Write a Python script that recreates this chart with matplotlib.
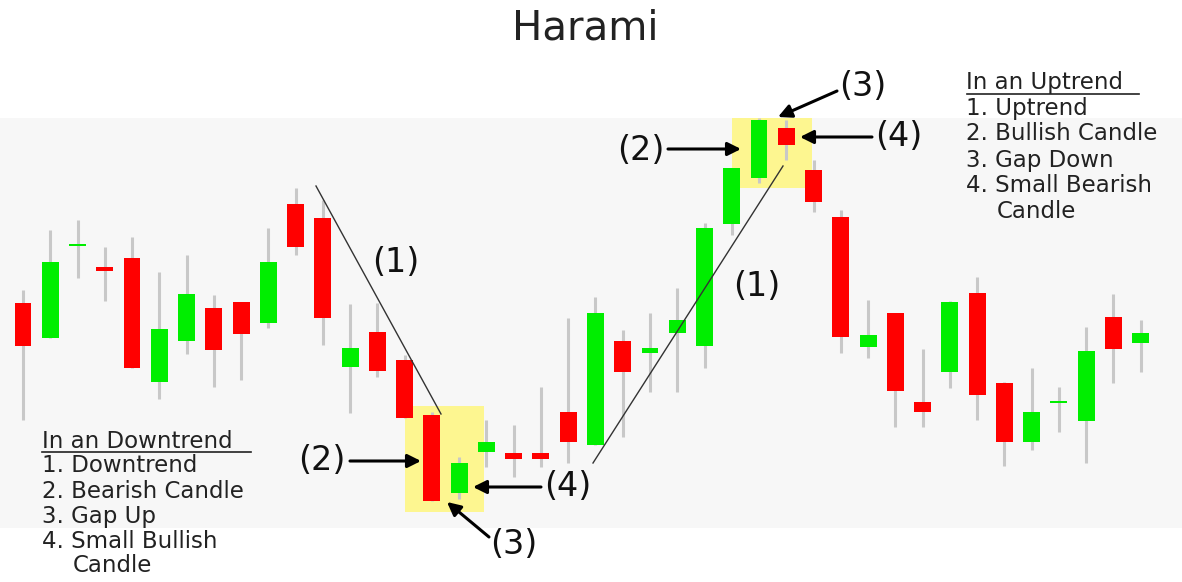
import matplotlib
matplotlib.use("Agg")
import matplotlib.pyplot as plt
from matplotlib.patches import Rectangle

# --- candle data (arbitrary price units) ---
opens = [27.9, 24.4, 33.6, 31.5, 32.4, 20.0, 24.1, 27.4, 28.0, 25.9,
         37.8, 36.4, 21.5, 25.0, 22.2, 16.7, 8.9, 13.0, 12.9, 12.9,
         17.0, 13.7, 24.1, 22.9, 24.9, 23.6, 35.8, 40.4, 45.4, 41.2,
         36.5, 23.5, 26.9, 18.0, 21.0, 28.9, 19.9, 14.0, 17.9, 16.1,
         26.5, 23.9]
highs = [29.2, 35.2, 36.2, 33.5, 34.5, 31.0, 32.7, 28.7, 28.0, 35.4,
         39.4, 38.2, 27.8, 27.9, 22.7, 17.0, 12.5, 16.2, 15.7, 19.5,
         26.4, 28.5, 25.2, 26.9, 29.4, 35.9, 41.4, 46.4, 46.2, 42.2,
         37.2, 28.2, 26.9, 23.3, 28.1, 30.5, 20.0, 21.4, 19.5, 25.5,
         28.8, 26.2]
lows = [16.2, 24.4, 30.4, 28.1, 21.4, 18.3, 22.8, 19.5, 20.2, 25.4,
        32.7, 23.7, 16.9, 20.5, 16.4, 8.1, 8.3, 11.5, 10.5, 11.5,
        11.9, 13.7, 14.5, 19.0, 19.0, 21.4, 34.7, 39.9, 42.2, 37.0,
        22.9, 22.4, 15.5, 15.5, 19.4, 16.2, 11.6, 13.2, 15.0, 11.9,
        19.9, 21.0]
closes = [23.6, 32.0, 33.8, 31.1, 21.4, 25.3, 28.8, 23.2, 24.8, 32.0,
          33.5, 26.4, 23.4, 21.1, 16.4, 8.1, 11.9, 14.0, 12.3, 12.3,
          14.0, 26.9, 21.0, 23.4, 26.2, 35.4, 41.4, 46.2, 43.7, 38.0,
          24.5, 24.7, 19.1, 17.0, 28.0, 18.7, 14.0, 17.0, 18.0, 23.1,
          23.3, 24.9]

title = "Harami"
down_list = ["In an Downtrend", "1. Downtrend", "2. Bearish Candle",
             "3. Gap Up", "4. Small Bullish", "Candle"]
up_list = ["In an Uptrend", "1. Uptrend", "2. Bullish Candle",
           "3. Gap Down", "4. Small Bearish", "Candle"]

GREEN = "#00ee00"
RED = "#ff0000"
WICK = "#c8c8c8"
TEXT = "#222222"
FONT = "DejaVu Sans"

W, H = 1182, 582
fig = plt.figure(figsize=(W / 100, H / 100), dpi=100)
fig.patch.set_facecolor("white")

# background layer (pixel coords, y down)
bg = fig.add_axes([0, 0, 1, 1], zorder=0)
bg.set_xlim(0, W)
bg.set_ylim(H, 0)
bg.axis("off")
bg.add_patch(Rectangle((0, 118), W, 410, color="#f7f7f7", lw=0))
bg.add_patch(Rectangle((405, 406), 79, 106, color="#fdf690", lw=0))
bg.add_patch(Rectangle((732, 118), 80, 70, color="#fdf690", lw=0))

# candles
ax = fig.add_axes([0, 0, 1, 1], zorder=1)
ax.patch.set_alpha(0)
step, x0 = 27.26, 23
ax.set_xlim(-x0 / step, (W - x0) / step)
ax.set_ylim(0, H / 10)
ax.axis("off")
for i, (o, h, l, c) in enumerate(zip(opens, highs, lows, closes)):
    col = GREEN if c >= o else RED
    ax.vlines(i, l, h, color=WICK, lw=2.2, zorder=1)
    bottom = min(o, c)
    height = max(abs(c - o), 0.2)
    ax.bar(i, height, bottom=bottom, width=0.62, color=col, zorder=2)

# annotations (pixel coords, y down)
an = fig.add_axes([0, 0, 1, 1], zorder=2)
an.patch.set_alpha(0)
an.set_xlim(0, W)
an.set_ylim(H, 0)
an.axis("off")

an.plot([316, 441], [186, 414], color="#333333", lw=1.0)
an.plot([593, 783], [463, 166], color="#333333", lw=1.0)

an.text(585, 29, title, fontsize=29, family=FONT, color=TEXT,
        ha="center", va="center")

lab = dict(fontsize=24, family=FONT, color="#111111", ha="center", va="center")
an.text(396, 263, "(1)", **lab)
an.text(757, 287, "(1)", **lab)
an.text(322, 461, "(2)", **lab)
an.text(568, 486, "(4)", **lab)
an.text(514, 544, "(3)", **lab)
an.text(641, 150, "(2)", **lab)
an.text(863, 86, "(3)", **lab)
an.text(899, 137, "(4)", **lab)

arrow = dict(arrowstyle="-|>", lw=2.2, color="black", mutation_scale=20,
             shrinkA=0, shrinkB=0)
for start, end in [((350, 461), (421, 461)), ((541, 487), (473, 487)),
                   ((489, 537), (447, 502)), ((668, 149), (741, 149)),
                   ((837, 91), (778, 117)), ((872, 137), (800, 137))]:
    an.annotate("", xy=end, xytext=start, arrowprops=arrow)

txt = dict(fontsize=16.5, family=FONT, color=TEXT, ha="left", va="center")
ys_down = [441, 466, 491.5, 517, 542, 566]
for j, (s, y) in enumerate(zip(down_list, ys_down)):
    an.text(73 if j == len(down_list) - 1 else 42, y, s, **txt)
an.plot([42, 251], [452, 452], color=TEXT, lw=1.2)

ys_up = [82, 108, 134, 160, 186, 212]
for j, (s, y) in enumerate(zip(up_list, ys_up)):
    an.text(997 if j == len(up_list) - 1 else 966, y, s, **txt)
an.plot([967, 1139], [94, 94], color=TEXT, lw=1.2)

fig.savefig("out.png", dpi=100)
